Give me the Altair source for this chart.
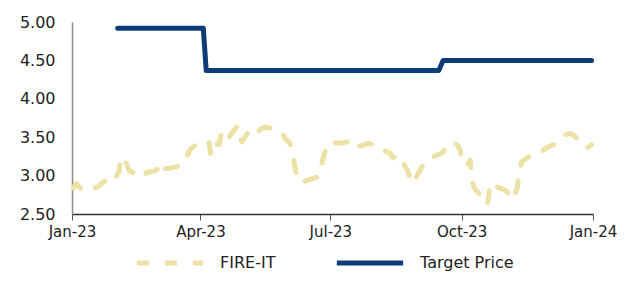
import altair as alt
import pandas as pd

fire_dates = [
    "2023-01-02", "2023-01-04", "2023-01-08", "2023-01-13", "2023-01-19", "2023-01-24",
    "2023-01-27", "2023-01-30", "2023-02-03", "2023-02-04", "2023-02-06", "2023-02-08",
    "2023-02-10", "2023-02-14", "2023-02-18", "2023-02-21", "2023-02-25", "2023-02-28",
    "2023-03-03", "2023-03-05", "2023-03-07", "2023-03-12", "2023-03-16", "2023-03-20",
    "2023-03-25", "2023-03-29", "2023-04-01", "2023-04-04", "2023-04-07", "2023-04-08",
    "2023-04-10", "2023-04-12", "2023-04-14", "2023-04-16", "2023-04-21", "2023-04-25",
    "2023-04-27", "2023-04-30", "2023-05-04", "2023-05-07", "2023-05-11", "2023-05-13",
    "2023-05-16", "2023-05-20", "2023-05-24", "2023-05-28", "2023-05-30", "2023-06-03",
    "2023-06-06", "2023-06-08", "2023-06-12", "2023-06-17", "2023-06-22", "2023-06-24",
    "2023-06-26", "2023-06-29", "2023-07-04", "2023-07-08", "2023-07-13", "2023-07-16",
    "2023-07-20", "2023-07-25", "2023-07-28", "2023-07-31", "2023-08-03", "2023-08-07",
    "2023-08-12", "2023-08-14", "2023-08-17", "2023-08-20", "2023-08-24", "2023-08-27",
    "2023-08-31", "2023-09-04", "2023-09-07", "2023-09-11", "2023-09-14", "2023-09-17",
    "2023-09-21", "2023-09-24", "2023-09-26", "2023-09-28", "2023-09-30", "2023-10-01",
    "2023-10-05", "2023-10-07", "2023-10-08", "2023-10-10", "2023-10-12", "2023-10-16",
    "2023-10-19", "2023-10-21", "2023-10-23", "2023-10-26", "2023-10-30", "2023-11-02",
    "2023-11-03", "2023-11-07", "2023-11-09", "2023-11-10", "2023-11-12", "2023-11-15",
    "2023-11-18", "2023-11-21", "2023-11-24", "2023-11-27", "2023-11-30", "2023-12-04",
    "2023-12-08", "2023-12-12", "2023-12-16", "2023-12-20", "2023-12-23", "2023-12-25",
    "2023-12-28", "2023-12-31",
]
fire_values = [
    2.84, 2.90, 2.81, 2.83, 2.85, 2.93,
    2.89, 2.93, 3.05, 3.24, 3.20, 3.16,
    3.07, 3.02, 2.98, 3.03, 3.05, 3.06,
    3.10, 3.02, 3.09, 3.10, 3.12, 3.16,
    3.35, 3.40, 3.42, 3.43, 3.44, 3.29,
    3.45, 3.42, 3.40, 3.59, 3.50, 3.60,
    3.65, 3.44, 3.55, 3.62, 3.57, 3.60,
    3.63, 3.62, 3.60, 3.56, 3.49, 3.41,
    3.14, 2.94, 2.92, 2.95, 2.98, 3.10,
    3.23, 3.42, 3.43, 3.42, 3.44, 3.36,
    3.38, 3.40, 3.42, 3.40, 3.37, 3.33,
    3.29, 3.23, 3.27, 3.20, 3.07, 2.90,
    3.01, 3.14, 3.20, 3.24, 3.27, 3.29,
    3.38, 3.44, 3.42, 3.40, 3.33, 3.16,
    3.14, 3.20, 2.94, 2.84, 2.79, 2.70,
    2.62, 2.87, 2.81, 2.85, 2.82, 2.79,
    2.70, 2.73, 2.85, 2.98, 3.18, 3.22,
    3.26, 3.29, 3.31, 3.33, 3.37, 3.40,
    3.45, 3.53, 3.55, 3.50, 3.45, 3.42,
    3.36, 3.40,
]

target_dates = ["2023-02-02", "2023-04-03", "2023-04-05", "2023-09-15", "2023-09-18", "2023-12-31"]
target_values = [4.92, 4.92, 4.37, 4.37, 4.50, 4.50]

series_names = ["FIRE-IT", "Target Price"]
series_colors = ["#ECE2A6", "#0E3C78"]
y_ticks = [2.5, 3.0, 3.5, 4.0, 4.5, 5.0]

df = pd.concat([
    pd.DataFrame({"date": fire_dates, "value": fire_values, "series": series_names[0]}),
    pd.DataFrame({"date": target_dates, "value": target_values, "series": series_names[1]}),
])

x_ticks = [alt.DateTime(year=y, month=m, date=1, utc=True)
           for y, m in [(2023, 1), (2023, 4), (2023, 7), (2023, 10), (2024, 1)]]

FONT = "DejaVu Sans"

legend = alt.Legend(orient="none", direction="horizontal",
                    legendX=62, legendY=205,
                    symbolType="stroke", symbolSize=4400,
                    symbolStrokeWidth=5, labelOffset=14,
                    columnPadding=50)

chart = alt.Chart(df).mark_line(strokeWidth=5, strokeCap="round", strokeJoin="round").encode(
    x=alt.X("date:T", title=None,
            scale=alt.Scale(type="utc", domain=[x_ticks[0], x_ticks[-1]]),
            axis=alt.Axis(values=x_ticks, labelExpr="utcFormat(datum.value, '%b-%y')",
                          grid=False, ticks=True, tickSize=6, tickColor="#555555",
                          domainColor="#333333", labelPadding=4, labelFlush=False,
                          labelFontSize=15)),
    y=alt.Y("value:Q", title=None,
            scale=alt.Scale(domain=[2.5, 5.0], nice=False, zero=False),
            axis=alt.Axis(values=y_ticks, format=".2f", grid=False, ticks=False,
                          domainColor="#8c8c8c", labelPadding=17)),
    color=alt.Color("series:N", title=None,
                    scale=alt.Scale(domain=series_names, range=series_colors),
                    legend=legend),
    strokeDash=alt.StrokeDash("series:N", title=None,
                              scale=alt.Scale(domain=series_names, range=[[12, 16], [1, 0]]),
                              legend=legend),
).properties(
    width=521, height=192,
    autosize=alt.AutoSizeParams(type="none"),
    padding={"left": 64, "top": 14, "right": 24, "bottom": 59},
).configure_axis(
    labelFont=FONT, labelFontSize=16, labelColor="#222222", domainWidth=1.5,
).configure_legend(
    labelFont=FONT, labelFontSize=16, labelColor="#222222",
).configure_view(stroke=None)

chart.save("out.html", embed_options={"renderer": "svg", "actions": False})
